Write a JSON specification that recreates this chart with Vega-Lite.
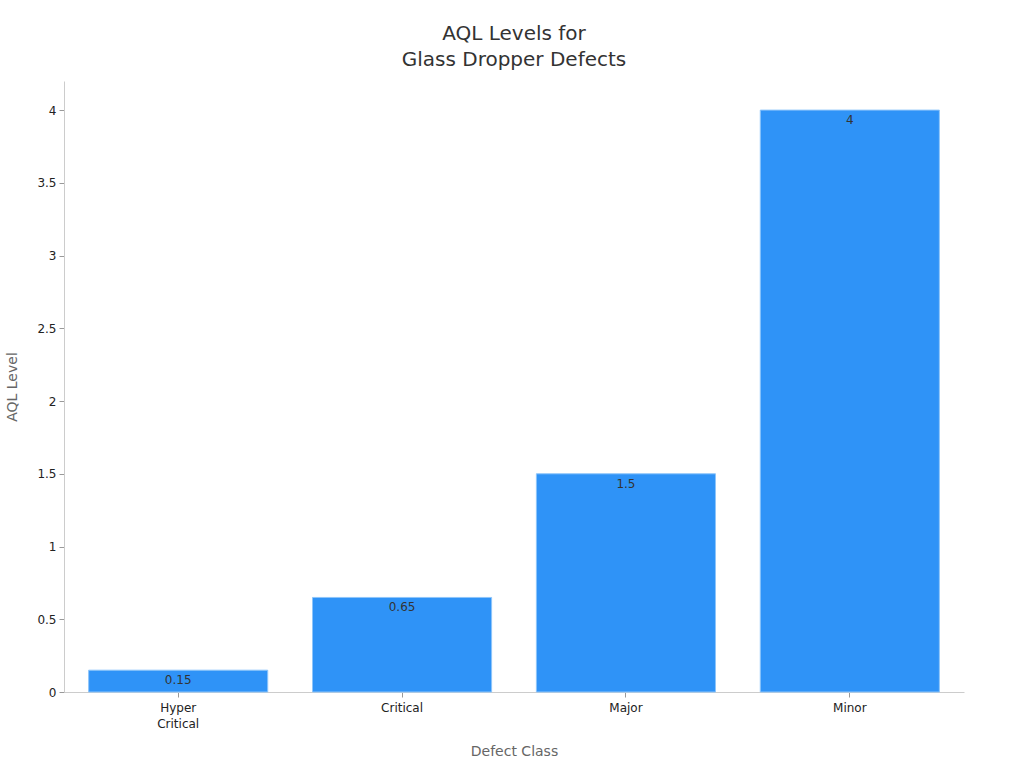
{
  "$schema": "https://vega.github.io/schema/vega-lite/v6.json",
  "description": "AQL levels by defect class",
  "autosize": {"type": "none"},
  "padding": {"left": 64, "top": 81, "right": 60, "bottom": 76},
  "width": 900,
  "height": 611,
  "background": "#ffffff",
  "title": {
    "text": ["AQL Levels for", "Glass Dropper Defects"],
    "fontSize": 20,
    "fontWeight": "normal",
    "color": "#333333",
    "lineHeight": 26,
    "offset": 11,
    "anchor": "middle"
  },
  "data": {
    "values": [
      {"Defect Class": "Hyper Critical", "AQL Level": 0.15},
      {"Defect Class": "Critical", "AQL Level": 0.65},
      {"Defect Class": "Major", "AQL Level": 1.5},
      {"Defect Class": "Minor", "AQL Level": 4}
    ]
  },
  "encoding": {
    "x": {
      "field": "Defect Class",
      "type": "nominal",
      "sort": null,
      "scale": {"paddingInner": 0.2, "paddingOuter": 0.11},
      "axis": {
        "labelAngle": 0,
        "labelExpr": "split(datum.label, ' ')",
        "labelLineHeight": 16,
        "labelPadding": 5,
        "titlePadding": 15
      }
    },
    "y": {
      "field": "AQL Level",
      "type": "quantitative",
      "scale": {"domain": [0, 4.2], "nice": false},
      "axis": {
        "values": [0, 0.5, 1, 1.5, 2, 2.5, 3, 3.5, 4],
        "format": "~g",
        "titlePadding": 17
      }
    }
  },
  "layer": [
    {
      "mark": {"type": "bar", "color": "#2f93f7", "stroke": "#8ec5fa", "strokeWidth": 1}
    },
    {
      "mark": {"type": "text", "baseline": "top", "dy": 5, "fontSize": 12, "color": "#333333"},
      "encoding": {"text": {"field": "AQL Level", "type": "quantitative"}}
    }
  ],
  "config": {
    "font": "DejaVu Sans",
    "view": {"stroke": null},
    "axis": {
      "grid": false,
      "domainColor": "#cccccc",
      "tickColor": "#999999",
      "tickSize": 5,
      "labelColor": "#222222",
      "labelFontSize": 12,
      "labelPadding": 3,
      "titleColor": "#666666",
      "titleFontSize": 14,
      "titleFontWeight": "normal"
    }
  }
}
